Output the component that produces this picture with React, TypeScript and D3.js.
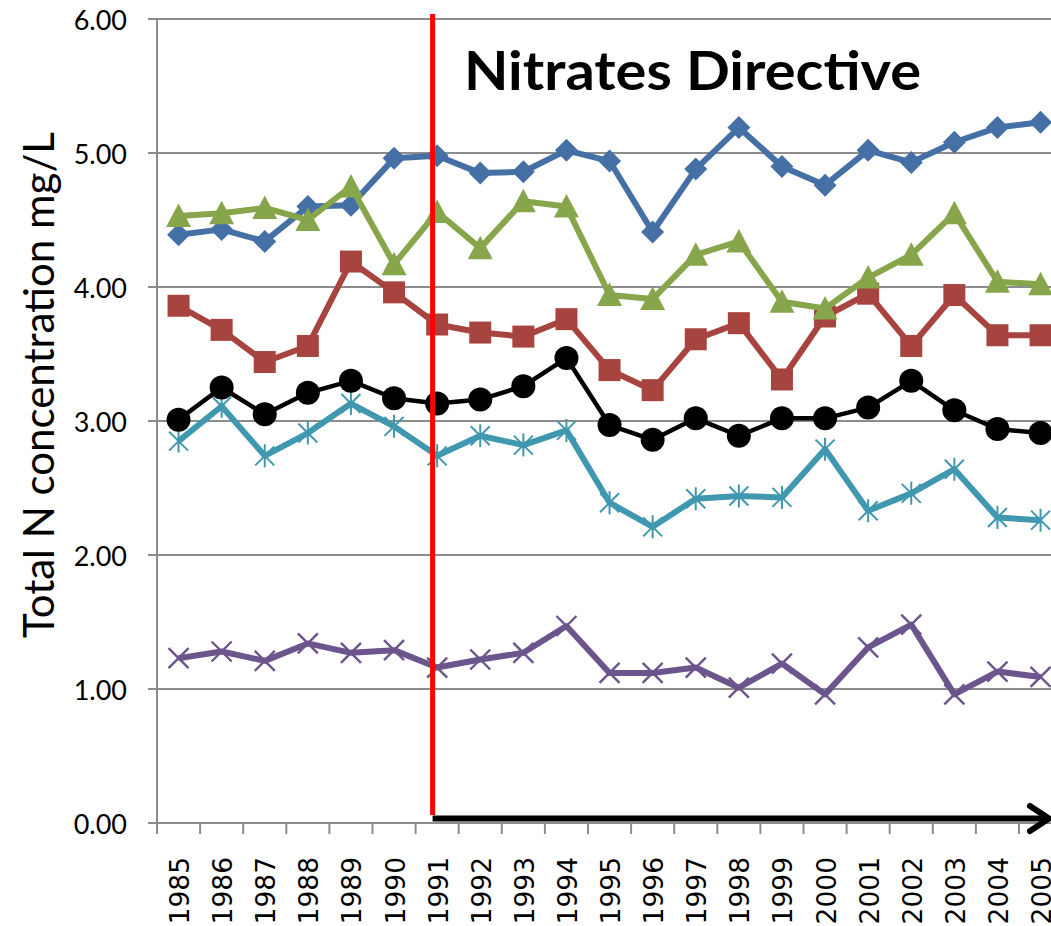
import React from "react";
import * as d3 from "d3";

const years = ["1985","1986","1987","1988","1989","1990","1991","1992","1993","1994","1995","1996","1997","1998","1999","2000","2001","2002","2003","2004","2005"];

const blueValues = [4.39,4.43,4.34,4.60,4.61,4.96,4.98,4.85,4.86,5.02,4.94,4.41,4.88,5.19,4.90,4.76,5.02,4.93,5.08,5.19,5.23];
const redValues = [3.86,3.68,3.44,3.56,4.19,3.96,3.72,3.66,3.63,3.76,3.38,3.23,3.61,3.73,3.31,3.78,3.95,3.56,3.94,3.64,3.64];
const greenValues = [4.53,4.55,4.59,4.50,4.75,4.17,4.56,4.29,4.64,4.60,3.94,3.91,4.24,4.34,3.89,3.84,4.07,4.24,4.55,4.04,4.02];
const purpleValues = [1.23,1.28,1.21,1.34,1.27,1.29,1.16,1.22,1.27,1.47,1.12,1.12,1.16,1.01,1.19,0.96,1.31,1.48,0.96,1.13,1.09];
const tealValues = [2.85,3.11,2.74,2.91,3.13,2.96,2.74,2.89,2.82,2.93,2.39,2.21,2.42,2.44,2.43,2.79,2.33,2.46,2.64,2.28,2.26];
const blackValues = [3.01,3.25,3.05,3.21,3.30,3.17,3.13,3.16,3.26,3.47,2.97,2.86,3.02,2.89,3.02,3.02,3.10,3.30,3.08,2.94,2.91];

const yTicks = [0, 1, 2, 3, 4, 5, 6];
const directiveYear = "1991";
const titleText = "Nitrates Directive";
const yLabel = "Total N concentration mg/L";

type Series = { name: string; values: number[]; color: string; width: number; marker: string };
const series: Series[] = [
  { name: "blue", values: blueValues, color: "#4470a6", width: 6, marker: "diamond" },
  { name: "red", values: redValues, color: "#a8443f", width: 6, marker: "square" },
  { name: "green", values: greenValues, color: "#87a54a", width: 6, marker: "triangle" },
  { name: "purple", values: purpleValues, color: "#6c548c", width: 6, marker: "x" },
  { name: "teal", values: tealValues, color: "#4098b0", width: 6, marker: "star" },
  { name: "black", values: blackValues, color: "#000000", width: 4.5, marker: "circle" },
];

const W = 1051, H = 926;
const left = 157, top = 19, bottom = 823;
const step = 43.1;
const right = left + step * years.length;

function Marker({ type, x, y, color }: { type: string; x: number; y: number; color: string }) {
  switch (type) {
    case "diamond": {
      const r = 11.5;
      return <path d={`M${x},${y - r}L${x + r},${y}L${x},${y + r}L${x - r},${y}Z`} fill={color} />;
    }
    case "square": {
      const s = 11;
      return <rect x={x - s} y={y - s} width={2 * s} height={2 * s} fill={color} />;
    }
    case "triangle": {
      return <path d={`M${x},${y - 12.5}L${x + 12.5},${y + 11}L${x - 12.5},${y + 11}Z`} fill={color} />;
    }
    case "circle":
      return <circle cx={x} cy={y} r={12} fill={color} />;
    case "x": {
      const s = 10;
      return (
        <path d={`M${x - s},${y - s}L${x + s},${y + s}M${x - s},${y + s}L${x + s},${y - s}`} stroke={color} strokeWidth={2.4} fill="none" />
      );
    }
    case "star": {
      const s = 9.5;
      return (
        <path d={`M${x - s},${y - s}L${x + s},${y + s}M${x - s},${y + s}L${x + s},${y - s}M${x},${y - s - 2}L${x},${y + s + 2}`} stroke={color} strokeWidth={2} fill="none" />
      );
    }
  }
  return null;
}

export default function App() {
  const x = d3.scaleBand<string>().domain(years).range([left, right]);
  const y = d3.scaleLinear().domain([0, 6]).range([bottom, top]);
  const cx = (yr: string) => (x(yr) as number) + x.bandwidth() / 2;
  const line = d3.line<number>().x((_, i) => cx(years[i])).y((v) => y(v));
  const grid = "#8c8c8c";
  const redX = (x(directiveYear) as number) + 17;
  const boundaries = years.map((yr) => x(yr) as number).concat([right]);

  return (
    <svg width={W} height={H} style={{ position: "absolute", left: 0, top: 0, background: "#fff" }}>
      <rect x={0} y={0} width={W} height={H} fill="#fff" />
      {yTicks.slice(1).map((t) => (
        <line key={t} x1={left} x2={right} y1={y(t)} y2={y(t)} stroke={grid} strokeWidth={2} />
      ))}
      {yTicks.map((t) => (
        <g key={"yt" + t}>
          <line x1={left - 9} x2={left} y1={y(t)} y2={y(t)} stroke={grid} strokeWidth={2} />
          <text x={127} y={y(t)} textAnchor="end" dominantBaseline="central" fontFamily="Lato, 'Open Sans', sans-serif" fontSize={27} fill="#000">
            {t.toFixed(2)}
          </text>
        </g>
      ))}
      <line x1={left} x2={left} y1={top} y2={bottom} stroke={grid} strokeWidth={2} />
      <line x1={left} x2={right} y1={bottom} y2={bottom} stroke={grid} strokeWidth={2} />
      {boundaries.map((b, i) => (
        <line key={"xt" + i} x1={b} x2={b} y1={bottom} y2={bottom + 11} stroke={grid} strokeWidth={2} />
      ))}
      {years.map((yr) => (
        <text key={"xl" + yr} transform={`translate(${cx(yr) + 1},857) rotate(-90)`} textAnchor="end" dominantBaseline="central" fontFamily="'DejaVu Sans', sans-serif" fontSize={26.5} fill="#000">
          {yr}
        </text>
      ))}
      <text transform={`translate(38,385) rotate(-90)`} textAnchor="middle" dominantBaseline="central" fontFamily="Lato, 'Open Sans', sans-serif" fontSize={42} fill="#000">
        {yLabel}
      </text>
      {series.map((s) => (
        <g key={s.name}>
          <path d={line(s.values) || ""} fill="none" stroke={s.color} strokeWidth={s.width} strokeLinejoin="round" />
          {s.values.map((v, i) => (
            <Marker key={i} type={s.marker} x={cx(years[i])} y={y(v)} color={s.color} />
          ))}
        </g>
      ))}
      <line x1={redX} x2={redX} y1={14} y2={815} stroke="#ff0000" strokeWidth={5} />
      <line x1={redX} x2={1049} y1={818.5} y2={818.5} stroke="#000" strokeWidth={6} />
      <path d={`M1030,806L1049,818.5L1030,831`} fill="none" stroke="#000" strokeWidth={6} strokeLinecap="round" strokeLinejoin="round" />
      <text x={464} y={90} fontFamily="Lato, 'Open Sans', sans-serif" fontWeight="bold" fontSize={53} fill="#000" textLength={457} lengthAdjust="spacingAndGlyphs">
        {titleText}
      </text>
    </svg>
  );
}
